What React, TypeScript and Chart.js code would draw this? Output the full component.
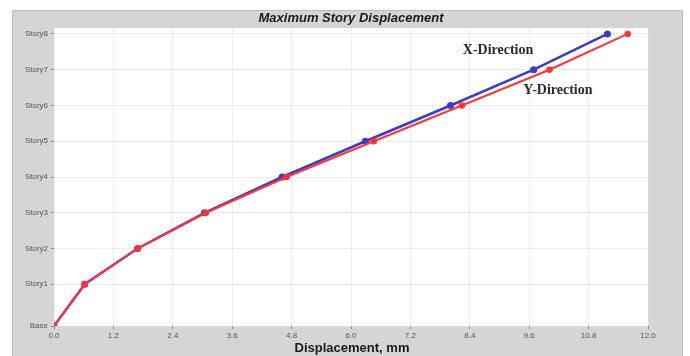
import React, { useEffect, useRef } from "react";
import { Chart, registerables } from "chart.js";

Chart.register(...registerables);

const storyNames = ["Base", "Story1", "Story2", "Story3", "Story4", "Story5", "Story6", "Story7", "Story8"];
const storyElev = [0, 3.5, 6.5, 9.5, 12.5, 15.5, 18.5, 21.5, 24.5];
const dispX = [0, 0.62, 1.69, 3.04, 4.61, 6.29, 8.01, 9.69, 11.18];
const dispY = [0, 0.62, 1.69, 3.07, 4.7, 6.46, 8.24, 10.01, 11.59];
const xTicks = [0, 1.2, 2.4, 3.6, 4.8, 6.0, 7.2, 8.4, 9.6, 10.8, 12.0];
const seriesNames = ["X-Direction", "Y-Direction"];
const seriesLabelX = [8.97, 10.18];
const seriesLabelY = [23.1, 19.8];
const chartTitle = "Maximum Story Displacement";
const xTitle = "Displacement, mm";

const framePlugin = {
  id: "frame",
  beforeDraw(chart: any) {
    const { ctx, chartArea } = chart;
    ctx.save();
    ctx.fillStyle = "#ffffff";
    ctx.fillRect(0, 0, chart.width, chart.height);
    ctx.fillStyle = "#d5d5d5";
    ctx.fillRect(12, 10, 671, chart.height - 10);
    ctx.strokeStyle = "#bdbdbd";
    ctx.lineWidth = 1;
    ctx.strokeRect(12.5, 10.5, 670, chart.height - 10);
    ctx.fillStyle = "#ffffff";
    ctx.fillRect(chartArea.left, chartArea.top, chartArea.right - chartArea.left, chartArea.bottom - chartArea.top);
    ctx.fillStyle = "#1a1a1a";
    ctx.font = "italic bold 13px 'Liberation Sans', Arial, sans-serif";
    ctx.textAlign = "center";
    ctx.textBaseline = "middle";
    ctx.fillText(chartTitle, 351, 18.5);
    ctx.font = "bold 13px 'Liberation Sans', Arial, sans-serif";
    ctx.fillText(xTitle, 352, 348.5);
    ctx.restore();
  },
  afterDatasetsDraw(chart: any) {
    const { ctx, scales } = chart;
    ctx.save();
    ctx.fillStyle = "#2a2a2a";
    ctx.font = "bold 14px 'Liberation Serif', 'Times New Roman', serif";
    ctx.textAlign = "center";
    ctx.textBaseline = "middle";
    seriesNames.forEach((n, i) => {
      ctx.fillText(n, scales.x.getPixelForValue(seriesLabelX[i]), scales.y.getPixelForValue(seriesLabelY[i]));
    });
    ctx.restore();
  },
};

export default function App() {
  const ref = useRef<HTMLCanvasElement>(null);
  useEffect(() => {
    if (!ref.current) return;
    const chart = new Chart(ref.current, {
      type: "scatter",
      data: {
        datasets: [
          {
            label: seriesNames[0],
            data: dispX.map((v, i) => ({ x: v, y: storyElev[i] })),
            showLine: true,
            borderColor: "#3b3bc8",
            backgroundColor: "#3b3bc8",
            borderWidth: 2.5,
            pointRadius: 2.3,
            order: 1,
          },
          {
            label: seriesNames[1],
            data: dispY.map((v, i) => ({ x: v, y: storyElev[i] })),
            showLine: true,
            borderColor: "#ff3535",
            backgroundColor: "#ff2a2a",
            borderWidth: 2,
            pointRadius: 2.3,
            order: 0,
          },
        ],
      },
      options: {
        responsive: false,
        animation: false,
        layout: { padding: { left: 0, top: 28, right: 42, bottom: 0 } },
        plugins: { legend: { display: false }, title: { display: false }, tooltip: { enabled: false } },
        scales: {
          x: {
            type: "linear",
            min: 0,
            max: 12,
            afterBuildTicks: (s: any) => {
              s.ticks = xTicks.map((v) => ({ value: v }));
            },
            afterFit: (s: any) => {
              s.height = 30;
            },
            ticks: {
              callback: (v: any) => Number(v).toFixed(1),
              font: { size: 8, family: "'Liberation Sans', Arial, sans-serif" },
              color: "#555",
              padding: 2,
              maxRotation: 0,
              autoSkip: false,
            },
            grid: { color: "rgba(215,222,230,0.55)", tickColor: "#888", tickLength: 3, lineWidth: 1 },
            border: { display: false },
          },
          y: {
            type: "linear",
            min: 0,
            max: 25,
            afterBuildTicks: (s: any) => {
              s.ticks = storyElev.map((v) => ({ value: v }));
            },
            afterFit: (s: any) => {
              s.width = 54;
            },
            ticks: {
              callback: (v: any) => {
                const i = storyElev.indexOf(Number(v));
                return i >= 0 ? storyNames[i] : "";
              },
              font: { size: 8, family: "'Liberation Sans', Arial, sans-serif" },
              color: "#555",
              padding: 3,
              autoSkip: false,
            },
            grid: { color: "rgba(215,222,230,0.55)", tickColor: "#888", tickLength: 3, lineWidth: 1 },
            border: { display: false },
          },
        },
      },
      plugins: [framePlugin],
    });
    return () => chart.destroy();
  }, []);
  return (
    <div style={{ position: "absolute", left: 0, top: 0, width: 690, height: 356 }}>
      <canvas ref={ref} width={690} height={356} style={{ width: 690, height: 356 }} />
    </div>
  );
}
